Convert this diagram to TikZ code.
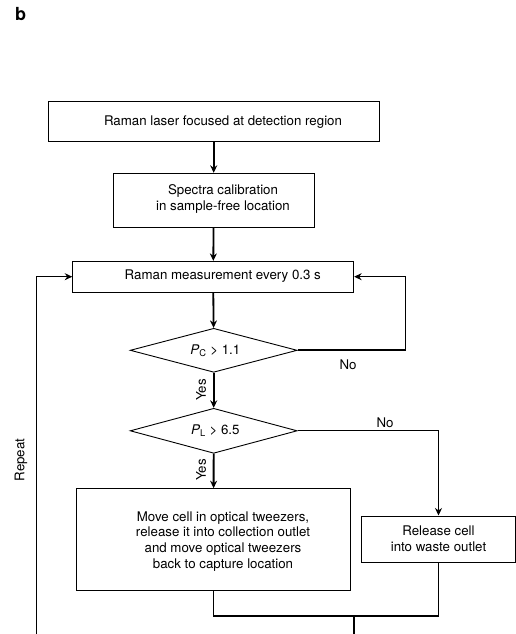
\documentclass[tikz,border=0pt]{standalone}
\usepackage{fontspec}
\setmainfont{TeX Gyre Heros}
\usetikzlibrary{arrows.meta,shapes.geometric,positioning}

\tikzset{
	box/.style={draw, line width=0.9pt, inner sep=0pt},
	decision/.style={draw, diamond, aspect=3.8, inner sep=0pt, line width=0.9pt,
		minimum width=167pt, minimum height=44pt},
	txt/.style={align=center, inner sep=0pt, font=\fontsize{13.3}{15.9}\selectfont},
	flow/.style={line width=1.8pt, -{Stealth[length=7.5pt,width=7pt]}},
	thinflow/.style={line width=1.1pt, -{Stealth[length=7.5pt,width=7pt]}},
	link/.style={line width=1.8pt},
}

\begin{document}
\begin{tikzpicture}[x=1pt, y=-1pt]
	\useasboundingbox (0, 0) rectangle (516, 634);
	\node[font=\fontsize{18}{20}\selectfont\bfseries] (panel) at (20.5, 14.5) {b};
	%%%%% boxes
	\node[box, minimum width=330.5pt, minimum height=39.3pt] (laser) at (213.7, 121.5) {};
	\node[txt] (laser-t) at (223, 122) {Raman laser focused at detection region};
	\node[box, minimum width=201pt, minimum height=54.4pt] (calib) at (213.7, 200.5) {};
	\node[txt] (calib-t) at (223, 198.7) {Spectra calibration\\in sample-free location};
	\node[box, minimum width=281pt, minimum height=30.7pt] (meas) at (213.2, 276.7) {};
	\node[txt] (meas-t) at (222.8, 276.5) {Raman measurement every 0.3 s};
	\node[decision] (pc) at (213.7, 350.3) {};
	\node[txt] (pc-t) at (215.3, 350.5) {\textit{P}\textsubscript{C} > 1.1};
	\node[decision, minimum height=45pt] (pl) at (213.7, 430.8) {};
	\node[txt] (pl-t) at (215.3, 431) {\textit{P}\textsubscript{L} > 6.5};
	\node[box, minimum width=274.4pt, minimum height=101.3pt] (move) at (213.5, 539.3) {};
	\node[txt] (move-t) at (223, 541.5) {Move cell in optical tweezers,\\release it into collection outlet\\and move optical tweezers\\back to capture location};
	\node[box, minimum width=154.4pt, minimum height=46.7pt] (waste) at (438.5, 539.3) {};
	\node[txt] (waste-t) at (438.5, 538.3) {Release cell\\into waste outlet};
	%%%%% connectors
	\coordinate (rloop) at (405.7, 350.3);
	\coordinate (merge) at (354, 616.3);
	\coordinate (exit) at (354, 634);
	\coordinate (back) at (36.3, 634);
	\draw[flow] (laser) -- (calib);
	\draw[flow] (calib) -- (meas);
	\draw[flow] (meas) -- (pc);
	\draw[flow] (pc) -- (pl);
	\node[txt, rotate=90] (yes1) at (201, 390) {Yes};
	\draw[flow] (pl) -- (move);
	\node[txt, rotate=90] (yes2) at (201, 470) {Yes};
	\draw[link] (pc.east) -- (rloop);
	\draw[thinflow] (rloop) |- (meas.east);
	\node[txt] (no1) at (348, 364.3) {No};
	\draw[thinflow] (pl.east) -| (waste.north);
	\node[txt] (no2) at (385, 422.3) {No};
	\draw[link] (move.south) |- (waste.south |- merge) -- (waste.south);
	\draw[link] (merge) -- (exit);
	\draw[thinflow] (back) |- (meas.west);
	\node[txt, rotate=90] (repeat) at (21, 460) {Repeat};
\end{tikzpicture}
\end{document}
